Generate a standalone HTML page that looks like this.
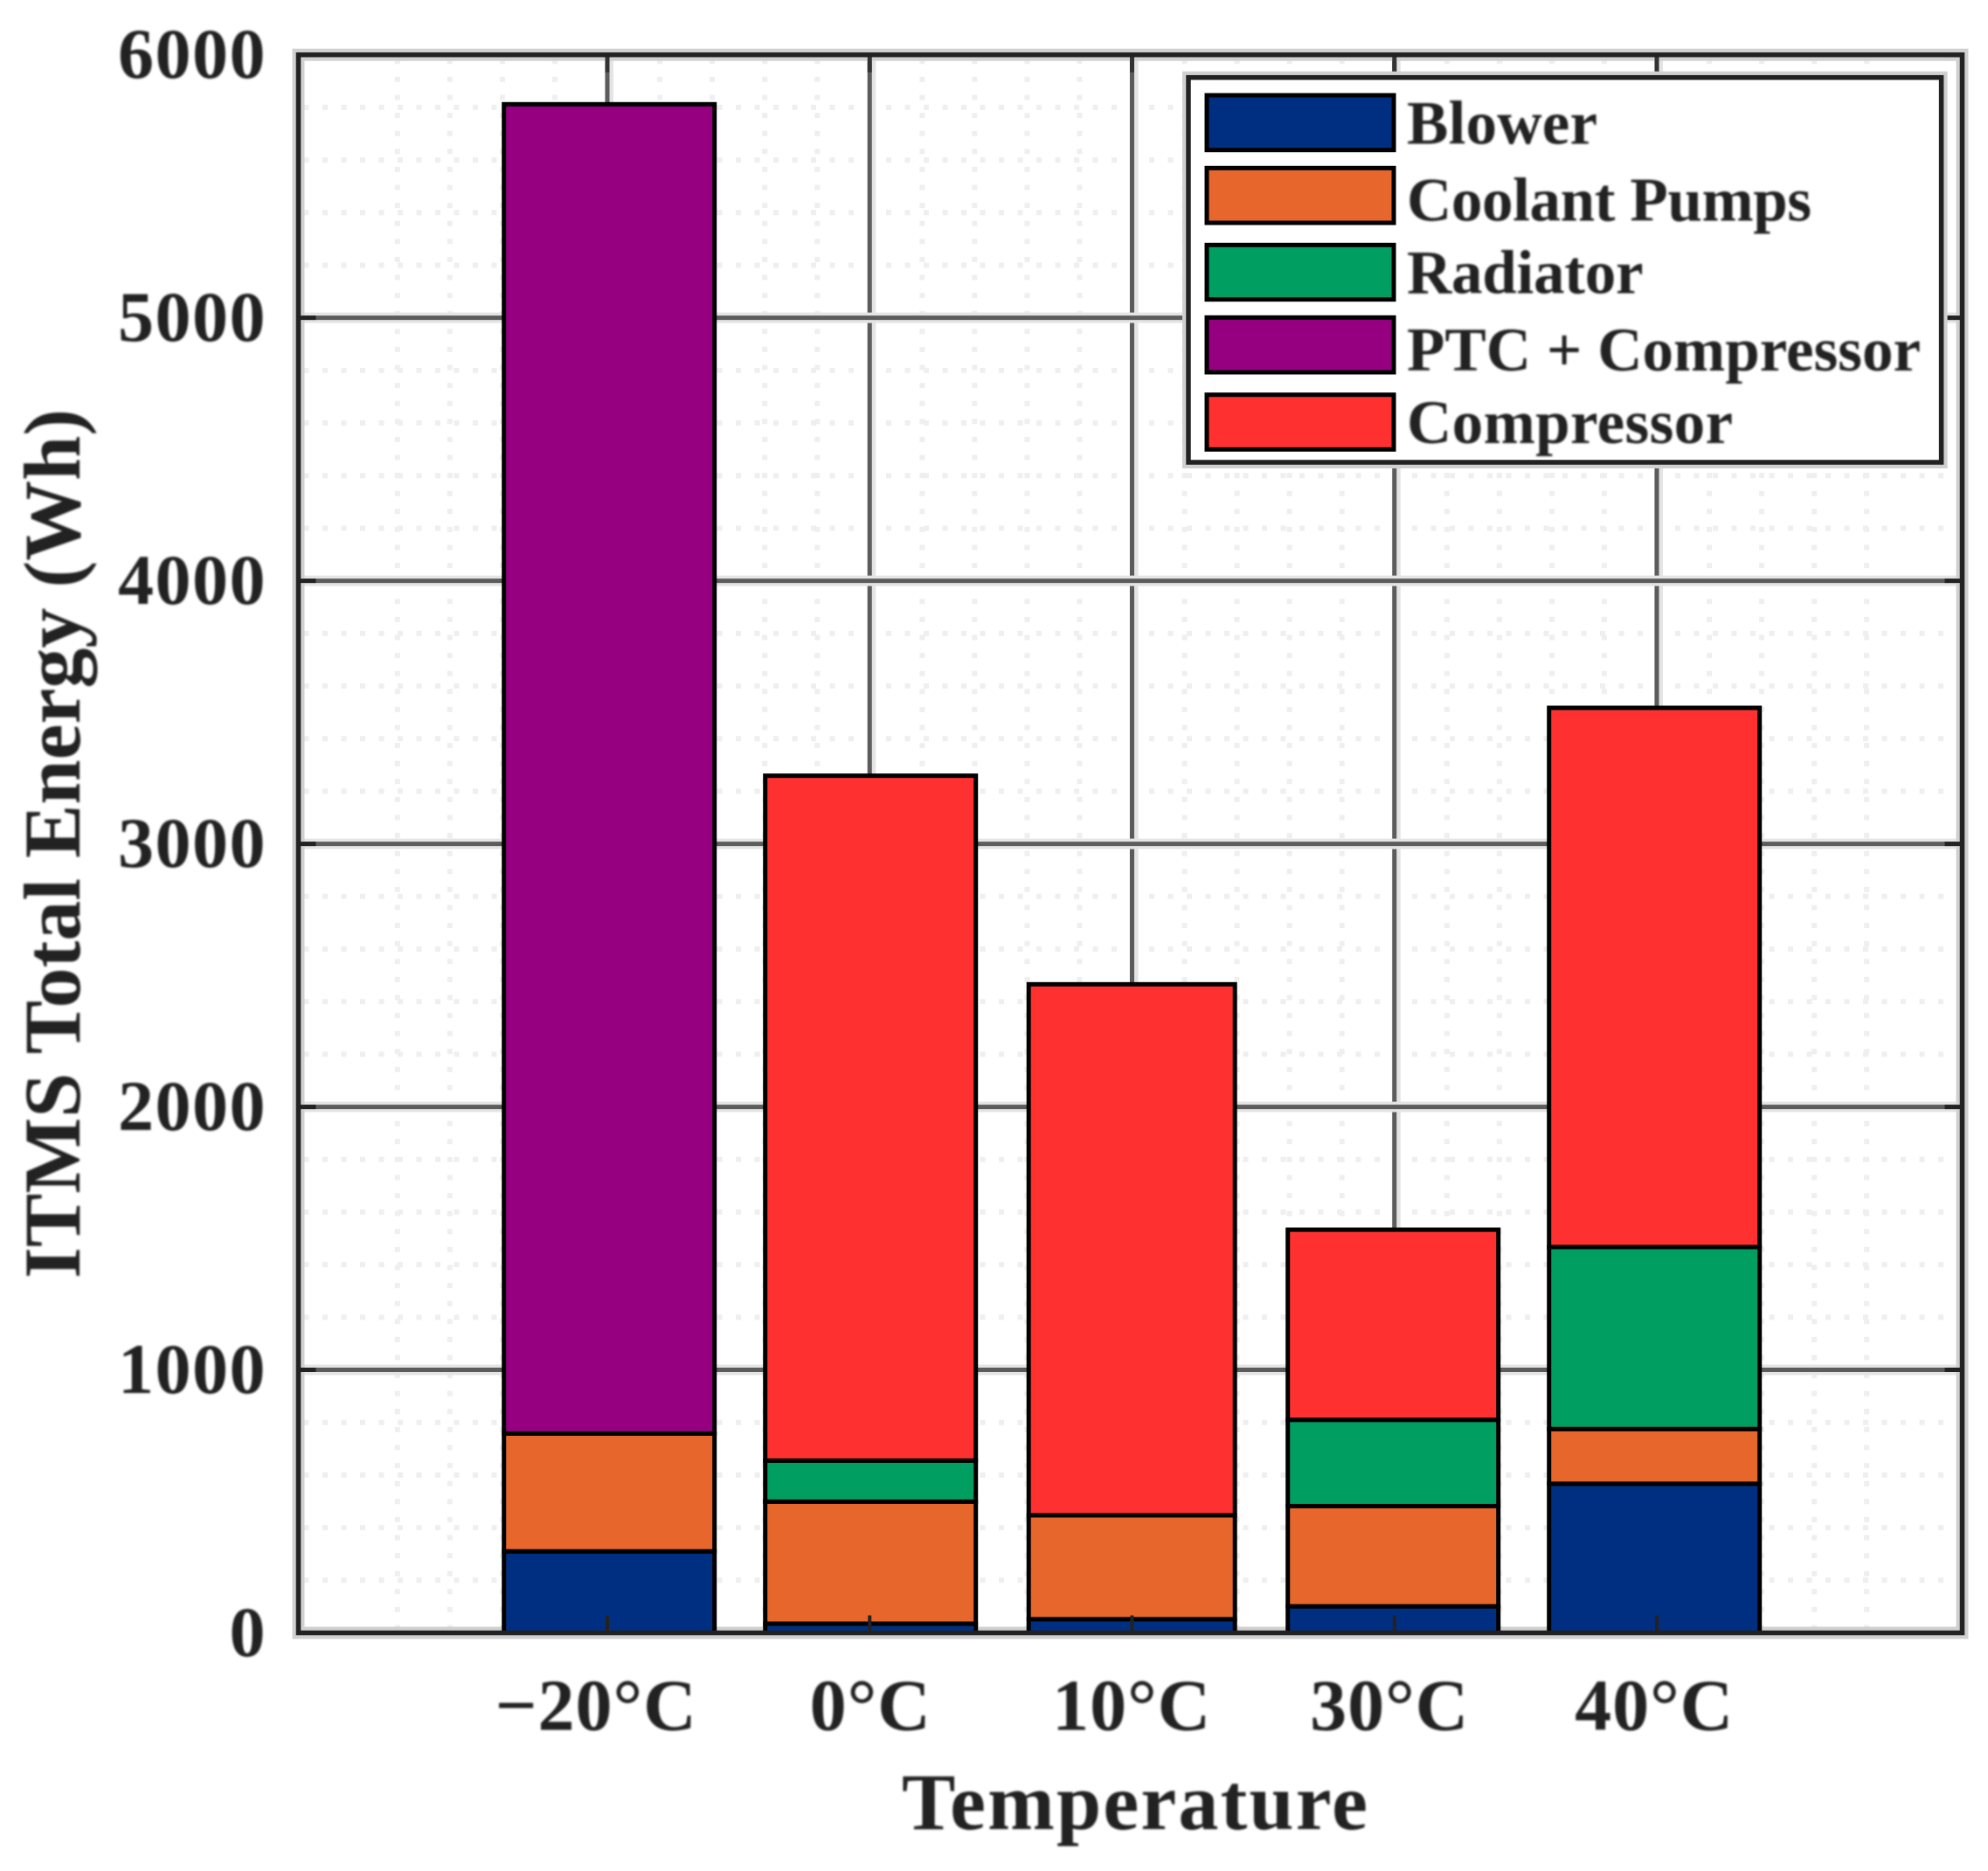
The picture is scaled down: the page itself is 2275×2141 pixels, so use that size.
<!DOCTYPE html>
<html lang="en">
<head>
<meta charset="utf-8">
<title>ITMS Total Energy by Temperature</title>
<style>
html,body{margin:0;padding:0;background:#fff;}
svg{display:block;}
text{font-family:"Liberation Serif",serif;font-weight:bold;fill:#222;}
</style>
</head>
<body>
<svg id="chart" xmlns="http://www.w3.org/2000/svg" width="2275" height="2141" viewBox="0 0 2275 2141">
  <defs>
    <filter id="soft" x="-5%" y="-5%" width="110%" height="110%"><feGaussianBlur stdDeviation="1"/></filter>
  </defs>
  <rect x="0" y="0" width="2275" height="2141" fill="#fff"/>
  <g id="grid-layer"></g>
  <rect x="341.5" y="62.7" width="1904" height="1805.8" fill="none" stroke="#d0d0d0" stroke-width="14"/>
  <g id="bar-layer"></g>
  <g id="axis-layer"></g>
  <rect x="341.5" y="62.7" width="1904" height="1805.8" fill="none" stroke="#222" stroke-width="5.5"/>
  <text transform="translate(91,1463) rotate(-90)" font-size="92" textLength="995" filter="url(#soft)">ITMS Total Energy (Wh)</text>
  <text x="1032" y="2093" font-size="92" textLength="533" filter="url(#soft)">Temperature</text>
  <g>
    <rect x="1360" y="88.7" width="861.6" height="440.3" fill="#fff" stroke="#d0d0d0" stroke-width="14"/>
    <rect x="1360" y="88.7" width="861.6" height="440.3" fill="#fff" stroke="#222" stroke-width="5.5"/>
    <rect x="1381" y="109" width="214" height="62.7" fill="#002f82" stroke="#000" stroke-width="5"/>
    <text x="1610" y="164.5" font-size="71" textLength="218" filter="url(#soft)">Blower</text>
    <rect x="1381" y="192.3" width="214" height="62.7" fill="#e6662b" stroke="#000" stroke-width="5"/>
    <text x="1610" y="252.5" font-size="71" textLength="463" filter="url(#soft)">Coolant Pumps</text>
    <rect x="1381" y="280.3" width="214" height="62.4" fill="#009e60" stroke="#000" stroke-width="5"/>
    <text x="1610" y="335.5" font-size="71" textLength="270.5" filter="url(#soft)">Radiator</text>
    <rect x="1381" y="363.3" width="214" height="62.7" fill="#960080" stroke="#000" stroke-width="5"/>
    <text x="1610" y="424.2" font-size="71" textLength="588" filter="url(#soft)">PTC + Compressor</text>
    <rect x="1381" y="451.7" width="214" height="62.6" fill="#ff3030" stroke="#000" stroke-width="5"/>
    <text x="1610" y="507.2" font-size="71" textLength="373" filter="url(#soft)">Compressor</text>
  </g>
</svg>
<script>
// Chart data
const categories = ['\u221220\u00B0C', '0\u00B0C', '10\u00B0C', '30\u00B0C', '40\u00B0C'];
const blower = [310, 35, 52, 101, 567];
const coolantPumps = [448, 464, 395, 381, 208];
const radiator = [0, 156, 0, 328, 692];
const ptcCompressor = [5054, 0, 0, 0, 0];
const compressor = [0, 2604, 2019, 723, 2050];
const yTickValues = [0, 1000, 2000, 3000, 4000, 5000, 6000];
const yTickLabels = ['0', '1000', '2000', '3000', '4000', '5000', '6000'];
const seriesNames = ['blower', 'coolant-pumps', 'radiator', 'ptc-compressor', 'compressor'];
const seriesColors = ['#002f82', '#e6662b', '#009e60', '#960080', '#ff3030'];
const seriesValues = [blower, coolantPumps, radiator, ptcCompressor, compressor];

// Axis functions
const yMax = 6000;
const plotLeft = 341.5, plotRight = 2245.5, plotTop = 62.7, plotBottom = 1868.5;
function yScale(v) { return plotBottom - v * (plotBottom - plotTop) / yMax; }
function xTick(i) { return 695 + i * 300.25; }
function barCenter(i) { return 697.2 + i * 299; }
function barWidth(i) { return i === 2 ? 236 : 241; }

const NS = 'http://www.w3.org/2000/svg';
function make(parent, tag, attrs, text) {
  const el = document.createElementNS(NS, tag);
  for (const k in attrs) el.setAttribute(k, attrs[k]);
  if (text !== undefined) el.textContent = text;
  parent.appendChild(el);
  return el;
}
const gridLayer = document.getElementById('grid-layer');
const barLayer = document.getElementById('bar-layer');
const axisLayer = document.getElementById('axis-layer');

// Minor dotted grid
for (let k = -5; k <= 32; k++) {
  if (k % 5 === 0) continue;
  const x = xTick(0) + k * (xTick(1) - xTick(0)) / 5;
  if (x <= plotLeft + 6 || x >= plotRight - 6) continue;
  const el = make(gridLayer, 'line', { x1: x, x2: x, y1: plotBottom - 3, y2: plotTop + 6, stroke: '#efefef', 'stroke-width': 6, 'stroke-dasharray': '6 14.6' });
  
  
}
for (let v = 200; v < yMax; v += 200) {
  if (v % 1000 === 0) continue;
  const y = yScale(v);
  const el = make(gridLayer, 'line', { x1: plotLeft + 6, x2: plotRight - 6, y1: y, y2: y, stroke: '#efefef', 'stroke-width': 6, 'stroke-dasharray': '6 15.5' });
  
  
}

// Major grid
categories.forEach(function (c, i) {
  const x = xTick(i);
  const halo = make(gridLayer, 'line', { x1: x + 2, x2: x + 2, y1: plotTop, y2: plotBottom, stroke: '#e4e4e4', 'stroke-width': 10 });
  
  
  const line = make(gridLayer, 'line', { x1: x, x2: x, y1: plotTop, y2: plotBottom, stroke: '#5c5c5c', 'stroke-width': 5 });
  
  
});
yTickValues.forEach(function (v) {
  if (v === 0 || v === yMax) return;
  const y = yScale(v);
  const halo = make(gridLayer, 'line', { x1: plotLeft, x2: plotRight, y1: y, y2: y, stroke: '#e4e4e4', 'stroke-width': 12 });
  
  
  const line = make(gridLayer, 'line', { x1: plotLeft, x2: plotRight, y1: y, y2: y, stroke: '#5c5c5c', 'stroke-width': 5 });
  
  
});

// Stacked bars
categories.forEach(function (c, i) {
  let base = 0;
  seriesValues.forEach(function (vals, s) {
    const v = vals[i];
    if (v > 0) {
      const yTop = yScale(base + v);
      const yBot = yScale(base);
      const el = make(barLayer, 'rect', { x: barCenter(i) - barWidth(i) / 2, y: yTop, width: barWidth(i), height: yBot - yTop, fill: seriesColors[s], stroke: '#000', 'stroke-width': 5 });
      
      
    }
    base += v;
  });
});

// Ticks and tick labels
categories.forEach(function (c, i) {
  const x = xTick(i);
  const t1 = make(axisLayer, 'line', { x1: x, x2: x, y1: plotBottom, y2: plotBottom - 20, stroke: '#222', 'stroke-width': 4 });
  
  
  const t2 = make(axisLayer, 'line', { x1: x, x2: x, y1: plotTop, y2: plotTop + 20, stroke: '#333', 'stroke-width': 5 });
  
  
  const shift = c.charAt(0) === '\u2212' ? 15 : (i === 3 ? 4 : 0);
  const label = make(axisLayer, 'text', { x: barCenter(i) - shift, y: 1979.6, 'font-size': 84, 'text-anchor': 'middle', 'letter-spacing': 1, filter: 'url(#soft)' }, c);
  
  
});
yTickValues.forEach(function (v, i) {
  const y = yScale(v);
  const t1 = make(axisLayer, 'line', { x1: plotLeft, x2: plotLeft + 20, y1: y, y2: y, stroke: '#222', 'stroke-width': 5 });
  
  
  const t2 = make(axisLayer, 'line', { x1: plotRight, x2: plotRight - 20, y1: y, y2: y, stroke: '#222', 'stroke-width': 5 });
  
  
  const label = make(axisLayer, 'text', { x: 305, y: y + 26.4, 'font-size': 82, 'text-anchor': 'end', 'letter-spacing': 1.5, filter: 'url(#soft)' }, yTickLabels[i]);
  
  
});
</script>
</body>
</html>
